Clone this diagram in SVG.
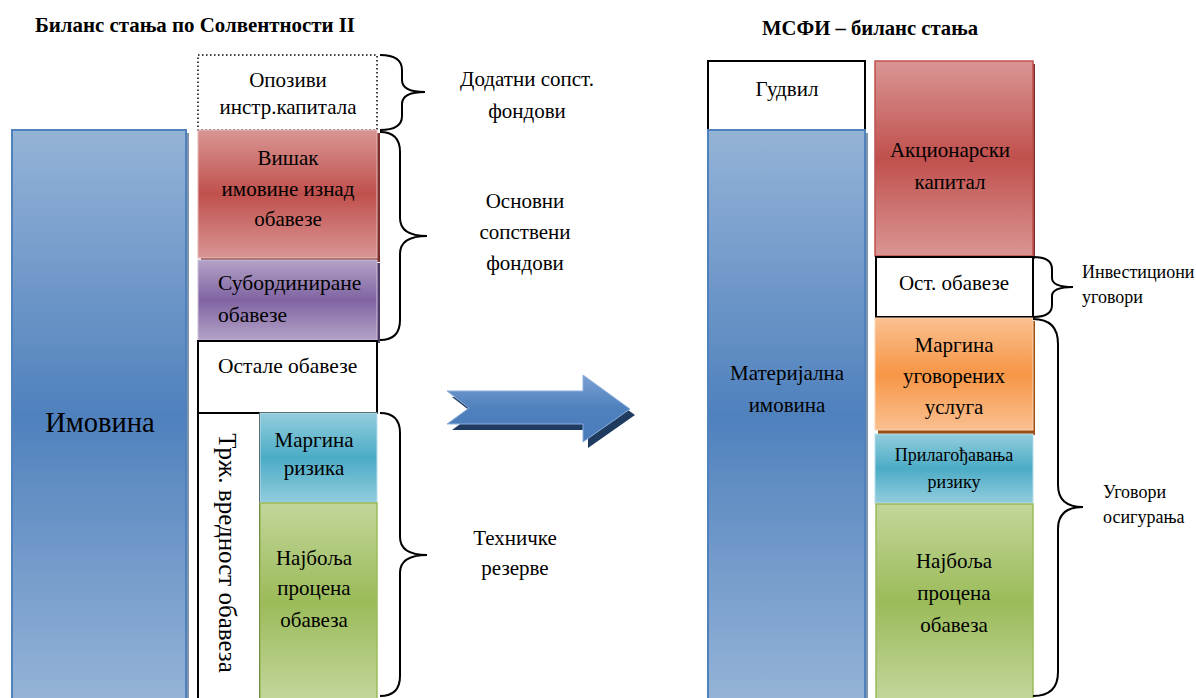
<svg xmlns="http://www.w3.org/2000/svg" width="1196" height="698" viewBox="0 0 1196 698" font-family="'Liberation Serif', 'DejaVu Serif', serif">
<defs>
<linearGradient id="gBlue" x1="0" y1="0" x2="0" y2="1"><stop offset="0" stop-color="#95b3d7"/><stop offset="0.5" stop-color="#4f81bd"/><stop offset="1" stop-color="#95b3d7"/></linearGradient>
<linearGradient id="gRed" x1="0" y1="0" x2="0" y2="1"><stop offset="0" stop-color="#d99694"/><stop offset="0.5" stop-color="#c0504d"/><stop offset="1" stop-color="#d99694"/></linearGradient>
<linearGradient id="gPurple" x1="0" y1="0" x2="0" y2="1"><stop offset="0" stop-color="#b3a2c7"/><stop offset="0.5" stop-color="#8064a2"/><stop offset="1" stop-color="#b3a2c7"/></linearGradient>
<linearGradient id="gAqua" x1="0" y1="0" x2="0" y2="1"><stop offset="0" stop-color="#93cddd"/><stop offset="0.5" stop-color="#4bacc6"/><stop offset="1" stop-color="#93cddd"/></linearGradient>
<linearGradient id="gGreen" x1="0" y1="0" x2="0" y2="1"><stop offset="0" stop-color="#c3d69b"/><stop offset="0.5" stop-color="#9bbb59"/><stop offset="1" stop-color="#c3d69b"/></linearGradient>
<linearGradient id="gOrange" x1="0" y1="0" x2="0" y2="1"><stop offset="0" stop-color="#fac090"/><stop offset="0.5" stop-color="#f79646"/><stop offset="1" stop-color="#fac090"/></linearGradient>
<linearGradient id="gArrow" x1="0" y1="0" x2="0" y2="1"><stop offset="0" stop-color="#7ba0d4"/><stop offset="0.5" stop-color="#4f81bd"/><stop offset="1" stop-color="#4a7bbd"/></linearGradient>
<style>
text{font-family:'Liberation Serif','DejaVu Serif',serif;fill:#000;}
.t{font-size:21px;text-anchor:middle;}
.tl{font-size:21.5px;}
.ts{font-size:18px;text-anchor:middle;}
.tsl{font-size:18px;}
.title{font-size:21px;font-weight:bold;}
.box{stroke:#000;stroke-width:2;fill:#fff;}
.brace{fill:none;stroke:#000;stroke-width:2;}
</style>
</defs>
<rect width="1196" height="698" fill="#fff"/>

<text class="title" x="35" y="32" textLength="320" lengthAdjust="spacingAndGlyphs">Биланс стања по Солвентности II</text>
<text class="title" x="762" y="35" textLength="216" lengthAdjust="spacingAndGlyphs">МСФИ – биланс стања</text>

<g id="imovina">
<rect x="15" y="133" width="174" height="568" fill="#2c4d75" opacity="0.6"/>
<rect x="12" y="130" width="174" height="570" fill="url(#gBlue)" stroke="#4f81bd" stroke-width="2"/>
<text x="100" y="432" font-size="28.5" text-anchor="middle">Имовина</text>
</g>

<g id="opozivi">
<rect x="198" y="55" width="179" height="75" fill="#fff" stroke="#000" stroke-width="1.5" stroke-dasharray="1.5 2.5"/>
<text class="t" x="288" y="87">Опозиви</text>
<text class="t" x="288" y="114">инстр.капитала</text>
</g>

<g id="visak">
<rect x="201" y="133" width="179" height="129" fill="#7b302e"/>
<rect x="198" y="130" width="179" height="128" fill="url(#gRed)" stroke="#e6b9b8" stroke-width="1"/>
<text class="t" x="288" y="165">Вишак</text>
<text class="t" x="288" y="196">имовине изнад</text>
<text class="t" x="288" y="226">обавезе</text>
</g>

<g id="subordinirane">
<rect x="201" y="263" width="179" height="80" fill="#4e3b6a"/>
<rect x="198" y="260" width="179" height="80" fill="url(#gPurple)" stroke="#ccc1da" stroke-width="1"/>
<text class="tl" x="218" y="290">Субординиране</text>
<text class="tl" x="218" y="322">обавезе</text>
</g>

<g id="ostale">
<rect x="198" y="341" width="179" height="72" class="box" stroke-width="1.5"/>
<text class="tl" x="218" y="373">Остале обавезе</text>
</g>

<g id="trz">
<rect x="198" y="413" width="62" height="287" class="box" stroke-width="1.5"/>
<text transform="translate(219,553) rotate(90)" font-size="25" text-anchor="middle">Трж. вредност обавеза</text>
</g>

<g id="margina-rizika">
<rect x="260" y="413" width="117" height="90" fill="url(#gAqua)" stroke="#b7dde8" stroke-width="1"/>
<text class="t" x="314" y="447" font-size="22">Маргина</text>
<text class="t" x="314" y="475">ризика</text>
</g>

<g id="najbolja-l">
<rect x="260" y="503" width="117" height="197" fill="url(#gGreen)" stroke="#9bbb59" stroke-width="1.5"/>
<text class="t" x="314" y="565" font-size="22">Најбоља</text>
<text class="t" x="314" y="595" font-size="22">процена</text>
<text class="t" x="314" y="627" font-size="22">обавеза</text>
</g>

<g id="arrow">
<polygon points="452,397 588,397 588,381 635,415 588,448 588,430 452,430 474,414" fill="#1f3b60"/>
<polygon points="447,391 583,391 583,375 630,409 583,442 583,424 447,424 469,408" fill="url(#gArrow)" stroke="#8eb0dc" stroke-width="1"/>
</g>

<g id="gudvil">
<rect x="708" y="61" width="157" height="69" class="box"/>
<text class="t" x="787" y="96" font-size="22">Гудвил</text>
</g>

<g id="materijalna">
<rect x="711" y="133" width="157" height="568" fill="#2c4d75" opacity="0.6"/>
<rect x="708" y="130" width="157" height="570" fill="url(#gBlue)" stroke="#4f81bd" stroke-width="2"/>
<text class="t" x="787" y="380" font-size="22">Материјална</text>
<text class="t" x="787" y="412" font-size="22">имовина</text>
</g>

<g id="akcionarski">
<rect x="878" y="64" width="157" height="195" fill="#7b302e"/>
<rect x="875" y="61" width="158" height="195" fill="url(#gRed)" stroke="#c0504d" stroke-width="1.5"/>
<text class="t" x="950" y="157" font-size="22">Акционарски</text>
<text class="t" x="950" y="189" font-size="22">капитал</text>
</g>

<g id="ost-obaveze">
<rect x="876" y="257" width="157" height="60" class="box"/>
<text class="t" x="954" y="290" font-size="22">Ост. обавезе</text>
</g>

<g id="margina-ugovorenih">
<rect x="878" y="321" width="157" height="114" fill="#9b4f12"/>
<rect x="875" y="318" width="158" height="112" fill="url(#gOrange)" stroke="#fbd4b4" stroke-width="1"/>
<text class="t" x="954" y="352">Маргина</text>
<text class="t" x="954" y="383">уговорених</text>
<text class="t" x="954" y="414">услуга</text>
</g>

<g id="prilagodjavanja">
<rect x="875" y="434" width="158" height="69" fill="url(#gAqua)" stroke="#b7dde8" stroke-width="1"/>
<text class="ts" x="954" y="461">Прилагођавања</text>
<text class="ts" x="954" y="488">ризику</text>
</g>

<g id="najbolja-r">
<rect x="876" y="504" width="157" height="196" fill="url(#gGreen)" stroke="#9bbb59" stroke-width="1.5"/>
<text class="t" x="954" y="568" font-size="22">Најбоља</text>
<text class="t" x="954" y="600" font-size="22">процена</text>
<text class="t" x="954" y="632" font-size="22">обавеза</text>
</g>

<g id="braces">
<path class="brace" d="M380 55 Q402 55 402 70 V80 Q402 92 425 92 Q402 92 402 104 V116 Q402 130 380 130"/>
<path class="brace" d="M380 132 Q400 132 400 152 V218 Q400 236 427 236 Q400 236 400 254 V320 Q400 340 380 340"/>
<path class="brace" d="M380 413 Q400 413 400 433 V537 Q400 555 427 555 Q400 555 400 573 V676 Q400 696 380 696"/>
<path class="brace" d="M1033 257 Q1052 257 1052 269 V278 Q1052 287 1073 287 Q1052 287 1052 296 V305 Q1052 317 1033 317"/>
<path class="brace" d="M1033 319 Q1058 319 1058 344 V485 Q1058 507 1083 507 Q1058 507 1058 529 V672 Q1058 696 1033 696"/>
</g>

<g id="labels">
<text class="t" x="527" y="86">Додатни сопст.</text>
<text class="t" x="527" y="118">фондови</text>
<text class="t" x="525" y="208">Основни</text>
<text class="t" x="525" y="239">сопствени</text>
<text class="t" x="525" y="270">фондови</text>
<text class="t" x="515" y="545" font-size="22">Техничке</text>
<text class="t" x="515" y="575" font-size="22">резерве</text>
<text class="tsl" x="1082" y="278">Инвестициони</text>
<text class="tsl" x="1082" y="303">уговори</text>
<text class="tsl" x="1103" y="498">Уговори</text>
<text class="tsl" x="1103" y="523">осигурања</text>
</g>
</svg>
